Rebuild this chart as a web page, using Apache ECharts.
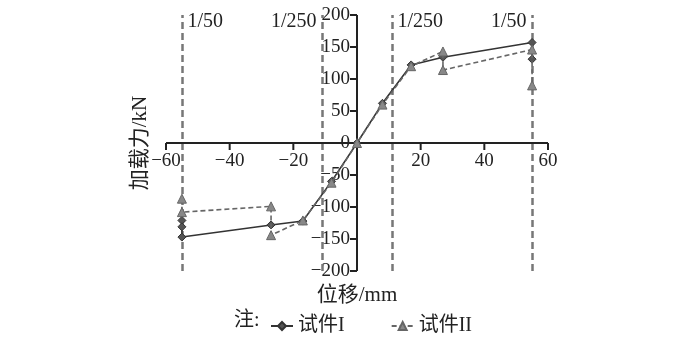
<!DOCTYPE html>
<html>
<head>
<meta charset="utf-8">
<script src="https://cdn.jsdelivr.net/npm/echarts@6/dist/echarts.min.js"></script>
<style>html,body{margin:0;padding:0;background:#fff}#c{width:700px;height:359px}</style>
</head>
<body>
<div id="c"></div>
<script>
// Data
var seriesNames = ['试件I', '试件II'];
var specimen1 = [[-55,-121],[-55,-131],[-55,-147],[-27,-128],[-17,-122],[-8,-60],[0,0],[8,62],[17,122],[27,134],[55,157],[55,131]];
var specimen2 = [[-55,-87],[-55,-108],[-27,-99],[-27,-144],[-17,-121],[-8,-62],[0,0],[8,60],[17,120],[27,143],[27,114],[55,146],[55,90]];
var driftX = [-55, -11, 11, 55];
var driftLabels = ['1/50', '1/250', '1/250', '1/50'];
var driftLabelSide = ['right', 'left', 'right', 'left'];
var xRange = [-60, 60];
var yRange = [-200, 200];
var xTicks = [-60, -40, -20, 20, 40, 60];
var yTicks = [-200, -150, -100, -50, 0, 50, 100, 150, 200];

var serif = '"Liberation Serif", "Times New Roman", "Noto Sans CJK SC", serif';
function fmt(v){ return String(v).replace('-', '\u2212'); }

var GL = 166, GR = 152, GT = 15, GB = 88, W = 700, H = 359;
var gw = W - GL - GR, gh = H - GT - GB;
var yAxisOffset = -gw * (0 - xRange[0]) / (xRange[1] - xRange[0]);
var xAxisOffset = -gh * (0 - yRange[0]) / (yRange[1] - yRange[0]);

var chart = echarts.init(document.getElementById('c'), null, {renderer:'canvas'});
chart.setOption({
  animation: false,
  backgroundColor: '#fff',
  grid: {left: GL, right: GR, top: GT, bottom: GB, containLabel: false, outerBoundsMode: 'none'},
  textStyle: {fontFamily: serif},
  xAxis: {
    type: 'value', min: xRange[0], max: xRange[1], interval: 20, position: 'bottom', offset: xAxisOffset,
    name: '位移/mm', nameLocation: 'middle', nameGap: 142,
    nameTextStyle: {fontFamily: serif, fontSize: 21, color: '#222'},
    axisLine: {show: false, onZero: false},
    axisTick: {show: false},
    axisLabel: {fontFamily: serif, fontSize: 19, color: '#222', margin: 9,
      formatter: function(v){ return v === 0 ? '' : fmt(v); }},
    splitLine: {show: false}
  },
  yAxis: {
    type: 'value', min: yRange[0], max: yRange[1], interval: 50, position: 'left', offset: yAxisOffset,
    name: '加载力/kN', nameLocation: 'middle', nameGap: 206,
    nameTextStyle: {fontFamily: serif, fontSize: 21, color: '#222'},
    axisLine: {show: false, onZero: false},
    axisTick: {show: false},
    axisLabel: {fontFamily: serif, fontSize: 19, color: '#222', margin: 7,
      formatter: function(v){ return fmt(v); }},
    splitLine: {show: false}
  },
  legend: {
    left: 265, top: 311, itemWidth: 22, itemHeight: 10, itemGap: 46,
    textStyle: {fontFamily: serif, fontSize: 20, color: '#222'},
    data: seriesNames
  },
  graphic: [{
    type: 'text', left: 234, top: 311,
    style: {text: '注:', font: '20px ' + serif, fill: '#222'}
  }],
  series: [
    {
      name: 'drift', type: 'line', data: [], silent: true,
      markLine: {
        silent: true, symbol: ['none','none'],
        lineStyle: {color: '#777', width: 2.5, type: [7,4]},
        label: {show: false},
        data: driftX.map(function(x){ return {xAxis: x}; })
      },
      markPoint: {
        symbol: 'rect', symbolSize: 1, itemStyle: {color: 'rgba(0,0,0,0)'},
        data: driftX.map(function(x, i){
          return {coord: [x, 189], label: {show: true, formatter: driftLabels[i],
            position: driftLabelSide[i], distance: 5,
            fontFamily: serif, fontSize: 20, color: '#222'}};
        })
      }
    },
    {
      name: 'xAxisLine', type: 'line', silent: true, symbol: 'none', clip: false,
      data: [[xRange[0], 0], [xRange[1], 0]],
      lineStyle: {color: '#222', width: 2, type: 'solid'}, z: 5
    },
    {
      name: 'yAxisLine', type: 'line', silent: true, symbol: 'none', clip: false,
      data: [[0, yRange[0]], [0, yRange[1]]],
      lineStyle: {color: '#222', width: 2, type: 'solid'}, z: 5
    },
    {
      name: 'xticks', type: 'scatter', silent: true, clip: false,
      data: xTicks.map(function(v){ return [v, 0]; }),
      symbol: 'rect', symbolSize: [2, 7], symbolOffset: [0, 3.5],
      itemStyle: {color: '#222', opacity: 1}, z: 5
    },
    {
      name: 'yticks', type: 'scatter', silent: true, clip: false,
      data: yTicks.map(function(v){ return [0, v]; }),
      symbol: 'rect', symbolSize: [7, 2], symbolOffset: [-3.5, 0],
      itemStyle: {color: '#222', opacity: 1}, z: 5
    },
    {
      name: seriesNames[0], type: 'line', data: specimen1,
      symbol: 'diamond', symbolSize: 8,
      lineStyle: {color: '#333', width: 1.6},
      itemStyle: {color: '#555', borderColor: '#333', borderWidth: 1},
      z: 6
    },
    {
      name: seriesNames[1], type: 'line', data: specimen2,
      symbol: 'triangle', symbolSize: 9,
      lineStyle: {color: '#666', width: 1.6, type: [5,3]},
      itemStyle: {color: '#888', borderColor: '#666', borderWidth: 1},
      z: 7
    }
  ]
});
</script>
</body>
</html>
